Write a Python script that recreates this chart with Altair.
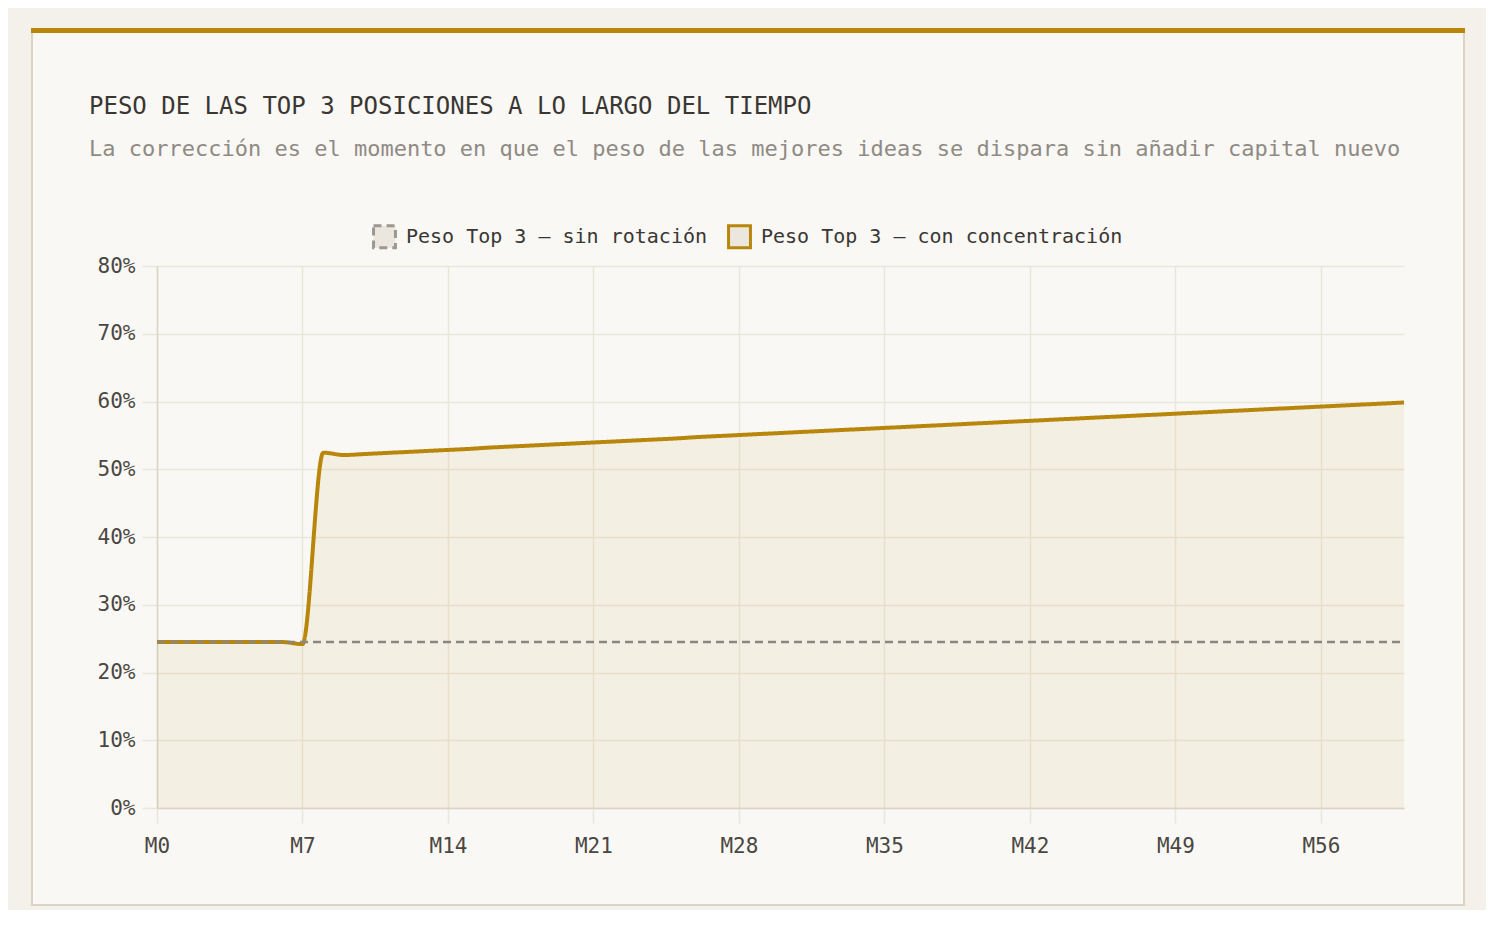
import altair as alt
import pandas as pd

FONT = "DejaVu Sans Mono"

# ---- data -------------------------------------------------------------
titulo = "PESO DE LAS TOP 3 POSICIONES A LO LARGO DEL TIEMPO"
subtitulo = ("La corrección es el momento en que el peso de las mejores ideas "
             "se dispara sin añadir capital nuevo")

meses = list(range(61))
x_ticks = [0, 7, 14, 21, 28, 35, 42, 49, 56]
y_ticks = [0, 10, 20, 30, 40, 50, 60, 70, 80]

serie_sin = "Peso Top 3 — sin rotación"
serie_con = "Peso Top 3 — con concentración"

sin_rotacion = [
    24.5, 24.5, 24.5, 24.5, 24.5, 24.5, 24.5, 24.5, 24.5, 24.5,
    24.5, 24.5, 24.5, 24.5, 24.5, 24.5, 24.5, 24.5, 24.5, 24.5,
    24.5, 24.5, 24.5, 24.5, 24.5, 24.5, 24.5, 24.5, 24.5, 24.5,
    24.5, 24.5, 24.5, 24.5, 24.5, 24.5, 24.5, 24.5, 24.5, 24.5,
    24.5, 24.5, 24.5, 24.5, 24.5, 24.5, 24.5, 24.5, 24.5, 24.5,
    24.5, 24.5, 24.5, 24.5, 24.5, 24.5, 24.5, 24.5, 24.5, 24.5,
    24.5,
]

con_concentracion = [
    24.5, 24.5, 24.5, 24.5, 24.5, 24.5, 24.5, 24.2, 52.45, 52.1,
    52.25, 52.4, 52.55, 52.7, 52.85, 53.0, 53.2, 53.35, 53.5, 53.65,
    53.8, 53.95, 54.1, 54.25, 54.4, 54.55, 54.75, 54.9, 55.05, 55.2,
    55.35, 55.5, 55.65, 55.8, 55.95, 56.1, 56.25, 56.4, 56.55, 56.7,
    56.85, 57.0, 57.15, 57.3, 57.45, 57.6, 57.75, 57.9, 58.05, 58.2,
    58.35, 58.5, 58.65, 58.8, 58.95, 59.1, 59.25, 59.4, 59.55, 59.7,
    59.85,
]

df_sin = pd.DataFrame({"mes": meses, "valor": sin_rotacion, "serie": serie_sin})
df_con = pd.DataFrame({"mes": meses, "valor": con_concentracion, "serie": serie_con})

# ---- styles -----------------------------------------------------------
GOLD = "#b8860b"
GRAY_LINE = "#8a8680"
PAGE = "#f4f1ea"
CARD = "#f9f8f4"
BORDER = "#d9d4c7"
GRID = "#ebe6db"
TEXT = "#3a3733"
SUB = "#8f8a84"

W, H = 1247, 542

x_enc = alt.X(
    "mes:Q",
    scale=alt.Scale(domain=[0, 60], nice=False),
    axis=alt.Axis(values=x_ticks, labelExpr="'M' + datum.value", title=None,
                  labelPadding=12, labelFlush=False),
)
y_enc = alt.Y(
    "valor:Q",
    scale=alt.Scale(domain=[0, 80], nice=False),
    axis=alt.Axis(values=y_ticks, labelExpr="datum.value + '%'", title=None,
                  labelPadding=7, labelFlush=False),
)

legend = alt.Legend(
    orient="none",
    legendX=215,
    legendY=-42,
    direction="horizontal",
    symbolType="square",
    symbolSize=480,
    symbolStrokeWidth=3,
    symbolFillColor="#ebe7de",
    labelFont=FONT,
    labelFontSize=20,
    labelColor=TEXT,
    labelOffset=9,
    labelLimit=500,
    columnPadding=14,
    padding=0,
)

color_enc = alt.Color(
    "serie:N",
    scale=alt.Scale(domain=[serie_sin, serie_con], range=["#9c9891", GOLD]),
    legend=legend,
    title=None,
)
dash_enc = alt.StrokeDash(
    "serie:N",
    scale=alt.Scale(domain=[serie_sin, serie_con], range=[[8, 5], [1, 0]]),
    legend=legend,
    title=None,
)


def deco(x1, x2, y1, y2, color):
    return alt.Chart(alt.Data(values=[{"k": 0}])).mark_rect(color=color).encode(
        x=alt.value(x1), x2=alt.value(x2), y=alt.value(y1), y2=alt.value(y2)
    )


# page strips and card frame (outside plot area)
frame = [
    deco(-149, -126, -258, 644, PAGE),
    deco(-149, 1329, -258, -238, PAGE),
    deco(1308, 1329, -258, 644, PAGE),
    deco(-149, 1329, 640, 644, PAGE),
    deco(-126, -124, -238, 640, BORDER),
    deco(1306, 1308, -238, 640, BORDER),
    deco(-126, 1308, 638, 640, BORDER),
    deco(-126, 1308, -238, -233, GOLD),
]

title_mark = alt.Chart(alt.Data(values=[{"t": titulo}])).mark_text(
    align="left", baseline="alphabetic", font=FONT, fontSize=24, color=TEXT
).encode(x=alt.value(-68), y=alt.value(-152), text="t:N")

subtitle_mark = alt.Chart(alt.Data(values=[{"t": subtitulo}])).mark_text(
    align="left", baseline="alphabetic", font=FONT, fontSize=22, color=SUB
).encode(x=alt.value(-68), y=alt.value(-110), text="t:N")

area = alt.Chart(df_con).mark_area(
    color=GOLD, opacity=0.07, interpolate="monotone"
).encode(x=x_enc, y=y_enc)

line_con = alt.Chart(df_con).mark_line(
    strokeWidth=4, interpolate="monotone"
).encode(x=x_enc, y=y_enc, color=color_enc, strokeDash=dash_enc)

line_sin = alt.Chart(df_sin).mark_line(
    strokeWidth=2.5
).encode(x=x_enc, y=y_enc, stroke=alt.value(GRAY_LINE), color=color_enc,
         strokeDash=dash_enc)

chart = alt.layer(*frame, title_mark, subtitle_mark, area, line_con, line_sin).properties(
    width=W,
    height=H,
    background=CARD,
    autosize=alt.AutoSizeParams(type="none"),
    padding={"left": 149, "top": 258, "right": 82, "bottom": 102},
).configure_axis(
    labelFont=FONT,
    labelFontSize=21,
    labelColor="#4a4743",
    gridColor=GRID,
    gridWidth=1.5,
    tickColor=GRID,
    tickWidth=1.5,
    tickSize=15,
    domainColor=BORDER,
    domainWidth=1.5,
).configure_view(strokeWidth=0)

chart.save("out.html", embed_options={"renderer": "svg", "actions": False})
